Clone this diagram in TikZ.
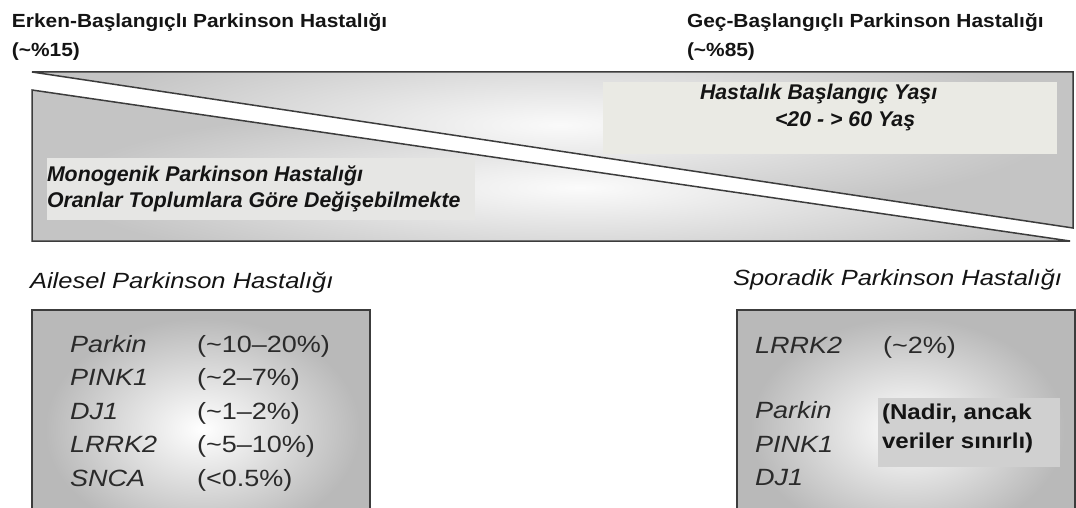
\documentclass[tikz,border=0pt]{standalone}
\usepackage{fontspec}
\setmainfont{Liberation Sans}
\newfontfamily\fTitle[FakeStretch=1.10]{Liberation Sans}
\newfontfamily\fHead[FakeStretch=1.16]{Liberation Sans}
\newfontfamily\fBox[FakeStretch=1.15]{Liberation Sans}
\newfontfamily\fNote[FakeStretch=1.12]{Liberation Sans}
\definecolor{edge}{HTML}{3C3C3C}
\definecolor{ink}{HTML}{141414}
\definecolor{boxink}{HTML}{2A2A2A}
\definecolor{wedgegray}{HTML}{C4C4C4}
\definecolor{boxgray}{HTML}{B9B9B9}
\definecolor{labelfill}{HTML}{E6E6E4}
\definecolor{agefill}{HTML}{EAEAE4}
\definecolor{notefill}{HTML}{D0D0D0}
\begin{document}
\begin{tikzpicture}[x=1pt,y=-1pt,
  txt/.style={anchor=base west,inner sep=0pt,outer sep=0pt},
  titletxt/.style={txt,text=ink,font=\fTitle\bfseries\fontsize{19}{23}\selectfont},
  midtxt/.style={txt,text=ink,font=\bfseries\itshape\fontsize{21.3}{26}\selectfont},
  headtxt/.style={txt,text=ink,font=\fHead\itshape\fontsize{22}{26}\selectfont},
  genetxt/.style={txt,text=boxink,font=\fBox\itshape\fontsize{23.5}{28}\selectfont},
  ratetxt/.style={txt,text=boxink,font=\fBox\fontsize{23.5}{28}\selectfont},
  notetxt/.style={txt,text=ink,font=\fNote\bfseries\fontsize{21.5}{26}\selectfont},
  outline/.style={draw=edge,line width=1.5pt,line join=miter}
]
\useasboundingbox (0,0) rectangle (1076,508);
\fill[white] (0,0) rectangle (1076,508);

% titles
\node[titletxt] (erken) at (12,28) {Erken-Başlangıçlı Parkinson Hastalığı};
\node[titletxt] (erkenp) at (12,57) {(\textasciitilde\%15)};
\node[titletxt] (gec) at (687,28) {Geç-Başlangıçlı Parkinson Hastalığı};
\node[titletxt] (gecp) at (687,57) {(\textasciitilde\%85)};

% upper wedge
\begin{scope}
  \clip (32,72) -- (1073,72) -- (1073,228) -- cycle;
  \fill[wedgegray] (0,60) rectangle (1076,250);
  \shade[inner color=white!96!gray,outer color=wedgegray] (60,30) rectangle (1060,220);
\end{scope}
\draw[outline] (32,72) -- (1073,72) -- (1073,228) -- cycle;

% lower wedge
\begin{scope}
  \clip (32,90) -- (1070,241) -- (32,241) -- cycle;
  \fill[wedgegray] (0,80) rectangle (1076,250);
  \shade[inner color=white!97!gray,outer color=wedgegray] (60,100) rectangle (1100,275);
\end{scope}
\draw[outline] (32,90) -- (1070,241) -- (32,241) -- cycle;

% label boxes on the wedges
\fill[labelfill] (47,158) rectangle (475,220);
\node[midtxt] (mono1) at (47,182) {Monogenik Parkinson Hastalığı};
\node[midtxt] (mono2) at (47,207) {Oranlar Toplumlara Göre Değişebilmekte};

\fill[agefill] (603,82) rectangle (1057,154);
\node[midtxt] (age1) at (700,100) {Hastalık Başlangıç Yaşı};
\node[midtxt] (age2) at (775,127) {<20 - > 60 Yaş};

% headings of lower boxes
\node[headtxt] (ailesel) at (30,288) {Ailesel Parkinson Hastalığı};
\node[headtxt] (sporadik) at (733,285) {Sporadik Parkinson Hastalığı};

% left box
\fill[boxgray] (32,310) rectangle (370,508);
\begin{scope}
  \clip (32,310) rectangle (370,508);
  \shade[inner color=white,outer color=boxgray] (45,318) rectangle (360,540);
\end{scope}
\draw[outline] (32,512) -- (32,310) -- (370,310) -- (370,512);

\node[genetxt] (g1) at (70,352) {Parkin};
\node[genetxt] (g2) at (70,385.5) {PINK1};
\node[genetxt] (g3) at (70,419) {DJ1};
\node[genetxt] (g4) at (70,452.5) {LRRK2};
\node[genetxt] (g5) at (70,486) {SNCA};
\node[ratetxt] (r1) at (197,352) {(\textasciitilde 10–20\%)};
\node[ratetxt] (r2) at (197,385.5) {(\textasciitilde 2–7\%)};
\node[ratetxt] (r3) at (197,419) {(\textasciitilde 1–2\%)};
\node[ratetxt] (r4) at (197,452.5) {(\textasciitilde 5–10\%)};
\node[ratetxt] (r5) at (197,486) {(<0.5\%)};

% right box
\fill[boxgray] (737,310) rectangle (1075,508);
\begin{scope}
  \clip (737,310) rectangle (1075,508);
  \shade[inner color=white,outer color=boxgray] (750,318) rectangle (1065,540);
\end{scope}
\draw[outline] (737,512) -- (737,310) -- (1075,310) -- (1075,512);

\node[genetxt] (s1) at (755,353) {LRRK2};
\node[ratetxt] (s1r) at (883,353) {(\textasciitilde 2\%)};
\node[genetxt] (s2) at (755,418) {Parkin};
\node[genetxt] (s3) at (755,452) {PINK1};
\node[genetxt] (s4) at (755,485) {DJ1};

\fill[notefill] (878,398) rectangle (1060,467);
\node[notetxt] (note1) at (882,419) {(Nadir, ancak};
\node[notetxt] (note2) at (882,448) {veriler sınırlı)};
\end{tikzpicture}
\end{document}
